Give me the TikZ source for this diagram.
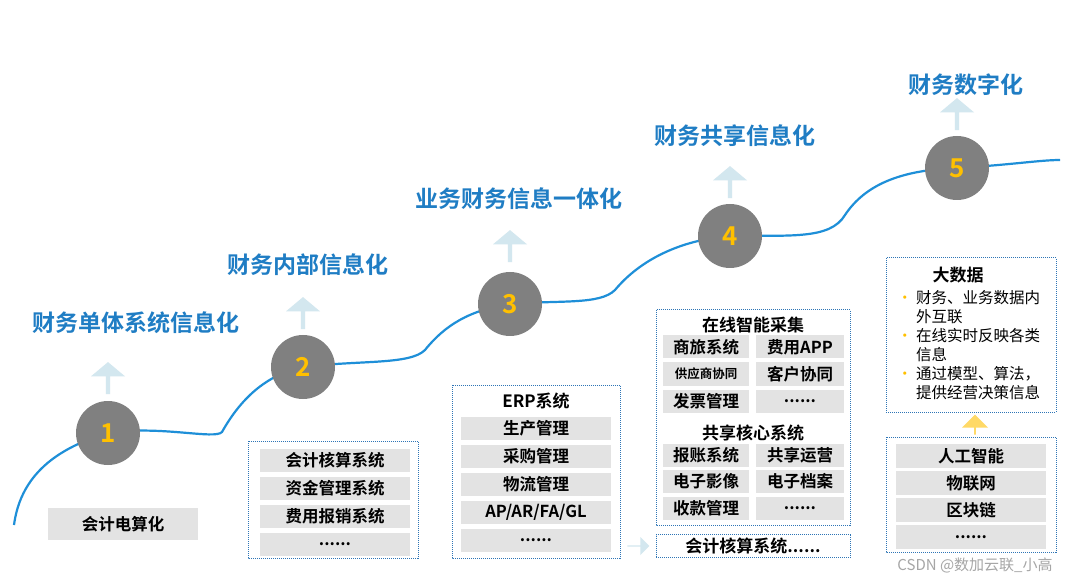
\documentclass[tikz,border=0pt]{standalone}
\usepackage{fontspec}
\setmainfont{Noto Sans CJK SC}
\newfontfamily\cjkb{Noto Sans CJK SC Bold}
\usetikzlibrary{shapes.arrows}
\def\mydots{......}
\definecolor{tblue}{HTML}{1F7DC4}
\definecolor{cblue}{HTML}{1E8FD8}
\definecolor{lblue}{HTML}{D3E7EF}
\definecolor{gcirc}{HTML}{808080}
\definecolor{gbox}{HTML}{E3E3E3}
\definecolor{orng}{HTML}{FFC000}
\definecolor{dotb}{HTML}{2E75B6}
\tikzset{
 circ/.style={circle,fill=gcirc,minimum size=64pt,inner sep=0pt,text=orng,font=\cjkb\fontsize{26}{26}\selectfont},
 ttl/.style={text=tblue,font=\cjkb\fontsize{23}{24}\selectfont},
 upar/.style={single arrow,shape border rotate=90,fill=lblue,minimum width=34pt,single arrow head extend=8pt,single arrow tip angle=100,minimum height=32pt,inner sep=1pt},
 item/.style={fill=gbox,minimum height=23pt,inner sep=0pt,font=\cjkb\fontsize{16.5}{16.5}\selectfont},
 frame/.style={draw=dotb,densely dotted,line width=1pt},
 hd/.style={font=\cjkb\fontsize{17}{17}\selectfont},
}
\begin{document}
\begin{tikzpicture}[x=1pt,y=-1pt]
\useasboundingbox[fill=white] (0,0) rectangle (1090,585);
% curve
\draw[cblue,line width=2.2pt] (14,525) .. controls (20,480) and (50,450) .. (108,433)
 .. controls (160,425) and (215,440) .. (222,432) .. controls (240,400) and (265,375) .. (303,367)
 .. controls (360,360) and (410,365) .. (425,350) .. controls (445,325) and (470,310) .. (510,304)
 .. controls (560,300) and (600,305) .. (615,290) .. controls (640,260) and (680,240) .. (730,236)
 .. controls (790,235) and (830,240) .. (845,215) .. controls (865,185) and (900,170) .. (957,168)
 .. controls (1010,165) and (1040,160) .. (1060,160);
% circles
\node[circ] (c1) at (108,433) {1};
\node[circ] (c2) at (303,367) {2};
\node[circ] (c3) at (510,304) {3};
\node[circ] (c4) at (730,236) {4};
\node[circ] (c5) at (957,168) {5};
% arrows
\node[upar] (a1) at (108,379) {};
\node[upar] (a2) at (303,314) {};
\node[upar] (a3) at (510,247) {};
\node[upar] (a4) at (730,183) {};
\node[upar] (a5) at (957,115) {};
% titles
\node[ttl] (t1) at (136,323) {财务单体系统信息化};
\node[ttl] (t2) at (308,265) {财务内部信息化};
\node[ttl] (t3) at (519,199) {业务财务信息一体化};
\node[ttl] (t4) at (735,136) {财务共享信息化};
\node[ttl] (t5) at (966,85) {财务数字化};
% stage 1
\node[item,minimum width=150pt,minimum height=32pt] (b1) at (123,524) {会计电算化};
% stage 2
\draw[frame] (248,441) rectangle (418,558);
\foreach \t [count=\i] in {会计核算系统,资金管理系统,费用报销系统,\mydots}
 \node[item,minimum width=150pt] (s2\i) at (335,432+28*\i) {\t};
% stage 3
\draw[frame] (452,385) rectangle (620,558);
\node[hd] (h3) at (536,401) {ERP系统};
\foreach \t [count=\i] in {生产管理,采购管理,物流管理,AP/AR/FA/GL,\mydots}
 \node[item,minimum width=150pt] (s3\i) at (536,400+28*\i) {\t};
% stage 4
\draw[frame] (656,310) rectangle (850,525);
\node[hd] (h4a) at (753,325) {在线智能采集};
\node[item,minimum width=86pt] (p1) at (706,347) {商旅系统};
\node[item,minimum width=88pt] (p2) at (800,347) {费用APP};
\node[item,minimum width=86pt,font=\cjkb\fontsize{12.5}{12.5}\selectfont] (p3) at (706,374) {供应商协同};
\node[item,minimum width=88pt] (p4) at (800,374) {客户协同};
\node[item,minimum width=86pt] (p5) at (706,401) {发票管理};
\node[item,minimum width=88pt] (p6) at (800,401) {\mydots};
\node[hd] (h4b) at (753,433) {共享核心系统};
\node[item,minimum width=86pt] (q1) at (706,455) {报账系统};
\node[item,minimum width=88pt] (q2) at (800,455) {共享运营};
\node[item,minimum width=86pt] (q3) at (706,481) {电子影像};
\node[item,minimum width=88pt] (q4) at (800,481) {电子档案};
\node[item,minimum width=86pt] (q5) at (706,508) {收款管理};
\node[item,minimum width=88pt] (q6) at (800,508) {\mydots};
\node[frame,minimum width=194pt,minimum height=23pt,inner sep=0pt,hd] (acc) at (753,546) {会计核算系统\mydots};
\node[single arrow,fill=lblue,minimum width=18pt,single arrow head extend=3pt,minimum height=22pt,inner sep=0pt] (ra) at (638,546) {};
% stage 5
\draw[frame] (886,258) rectangle (1056,412);
\node[hd] (h5) at (958,275) {大数据};
\node[anchor=north west,align=left,font=\fontsize{15.5}{19}\selectfont,inner sep=0pt] (bul) at (897,290) {%
{\color{orng}\textbullet}\ 财务、业务数据内\\\phantom{\textbullet\ }外互联\\
{\color{orng}\textbullet}\ 在线实时反映各类\\\phantom{\textbullet\ }信息\\
{\color{orng}\textbullet}\ 通过模型、算法，\\\phantom{\textbullet\ }提供经营决策信息};
\node[single arrow,shape border rotate=90,fill=orng!60,minimum width=26pt,single arrow head extend=3pt,minimum height=20pt,inner sep=0pt] (oa) at (975,425) {};
\draw[frame] (886,437) rectangle (1056,552);
\foreach \t [count=\i] in {人工智能,物联网,区块链,\mydots}
 \node[item,minimum width=150pt,minimum height=24pt] (s5\i) at (971,429+27*\i) {\t};
\node[text=gray!70,font=\fontsize{15}{15}\selectfont] (wm) at (975,565) {CSDN @数加云联\_小高};
\end{tikzpicture}
\end{document}
